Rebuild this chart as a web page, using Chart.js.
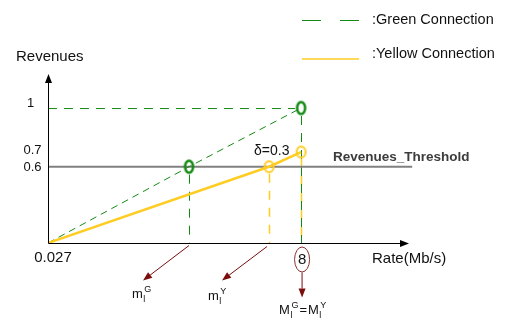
<!DOCTYPE html>
<html>
<head>
<meta charset="utf-8">
<script src="https://cdn.jsdelivr.net/npm/chart.js@4.4.1/dist/chart.umd.min.js"></script>
<style>
  html, body { margin: 0; padding: 0; background: #fff; }
  #wrap { width: 514px; height: 326px; }
</style>
</head>
<body>
<div id="wrap"><canvas id="chart" width="514" height="326"></canvas></div>
<script>
// values (schematic, not to scale)
const rateTicks = ["0.027", "8"];
const revenueTicks = [1, 0.7, 0.6];
const greenRate = [0.027, 4.47, 8];
const greenRevenue = [0.08, 0.6, 1];
const yellowRate = [0.027, 6.99, 8];
const yellowRevenue = [0.08, 0.6, 0.7];
const thresholdRate = [0.027, 11.5];
const thresholdRevenue = [0.6, 0.6];
const deltaLabel = "δ=0.3";
const legendLabels = [":Green Connection", ":Yellow Connection"];

const FONT = "'Liberation Sans', Arial, sans-serif";
const GREEN = "#138a13";
const YELLOW = "#ffcc22";
const RED = "#7a0c0c";

function toPoints(xs, ys) {
  return xs.map((x, i) => ({ x, y: ys[i] }));
}

function ellipseMarker(color, w, h, lw) {
  const c = document.createElement("canvas");
  c.width = w + lw * 2 + 2;
  c.height = h + lw * 2 + 2;
  const g = c.getContext("2d");
  g.strokeStyle = color;
  g.lineWidth = lw;
  g.beginPath();
  g.ellipse(c.width / 2, c.height / 2, w / 2, h / 2, 0, 0, Math.PI * 2);
  g.stroke();
  return c;
}

function dashed(ctx, x1, y1, x2, y2, color, lw, dash) {
  ctx.save();
  ctx.strokeStyle = color;
  ctx.lineWidth = lw;
  ctx.setLineDash(dash);
  ctx.beginPath();
  ctx.moveTo(x1, y1);
  ctx.lineTo(x2, y2);
  ctx.stroke();
  ctx.restore();
}

function arrow(ctx, x1, y1, x2, y2, color, headLen, headW) {
  const a = Math.atan2(y2 - y1, x2 - x1);
  const bx = x2 - headLen * Math.cos(a);
  const by = y2 - headLen * Math.sin(a);
  ctx.save();
  ctx.strokeStyle = color;
  ctx.fillStyle = color;
  ctx.lineWidth = 1;
  ctx.beginPath();
  ctx.moveTo(x1, y1);
  ctx.lineTo(bx, by);
  ctx.stroke();
  ctx.beginPath();
  ctx.moveTo(x2, y2);
  ctx.lineTo(bx + headW / 2 * Math.sin(a), by - headW / 2 * Math.cos(a));
  ctx.lineTo(bx - headW / 2 * Math.sin(a), by + headW / 2 * Math.cos(a));
  ctx.closePath();
  ctx.fill();
  ctx.restore();
}

// draws base with subscript + superscript, returns the x after it
function subSup(ctx, x, y, base, sub, sup) {
  ctx.font = "13px " + FONT;
  ctx.fillText(base, x, y);
  const w = ctx.measureText(base).width;
  ctx.font = "9px " + FONT;
  ctx.fillText(sub, x + w + 0.5, y + 4);
  ctx.fillText(sup, x + w + 1.5, y - 6);
  return x + w + 1.5 + ctx.measureText(sup).width;
}

const sketchPlugin = {
  id: "sketch",
  beforeDatasetsDraw(chart) {
    const { ctx, chartArea, scales } = chart;
    const sx = scales.x;
    const sy = scales.y;
    const y0 = chartArea.bottom;
    const x0 = chartArea.left;

    // horizontal guide at the top green point
    const gTopX = sx.getPixelForValue(greenRate[2]);
    const gTopY = sy.getPixelForValue(greenRevenue[2]);
    dashed(ctx, x0, gTopY + 0.5, gTopX - 6, gTopY + 0.5, GREEN, 1, [9, 7]);

    // vertical guides down to the rate axis
    const gMidX = Math.round(sx.getPixelForValue(greenRate[1])) + 0.5;
    const thY = sy.getPixelForValue(thresholdRevenue[0]);
    dashed(ctx, gMidX, thY + 8, gMidX, y0, GREEN, 1, [9, 8]);

    const yMidX = Math.round(sx.getPixelForValue(yellowRate[1])) + 0.5;
    dashed(ctx, yMidX, thY + 7, yMidX, y0, YELLOW, 1.5, [9, 8]);

    const yTopY = sy.getPixelForValue(yellowRevenue[2]);
    const endX = Math.round(gTopX) + 0.5;
    dashed(ctx, endX, yTopY + 7, endX, y0, YELLOW, 1.5, [9, 8]);
    dashed(ctx, endX, gTopY + 8, endX, y0, GREEN, 1, [9, 8]);
  },
  afterDraw(chart) {
    const { ctx, chartArea, scales } = chart;
    const sx = scales.x;
    const sy = scales.y;
    const x0 = chartArea.left + 0.5;
    const y0 = chartArea.bottom + 0.5;

    ctx.save();
    // axes with arrow heads
    ctx.strokeStyle = "#000";
    ctx.fillStyle = "#000";
    ctx.lineWidth = 1;
    ctx.beginPath();
    ctx.moveTo(x0, y0);
    ctx.lineTo(x0, chartArea.top + 8);
    ctx.moveTo(x0, y0);
    ctx.lineTo(chartArea.right - 8, y0);
    ctx.stroke();
    ctx.beginPath();
    ctx.moveTo(x0, chartArea.top);
    ctx.lineTo(x0 - 3.5, chartArea.top + 9);
    ctx.lineTo(x0 + 3.5, chartArea.top + 9);
    ctx.closePath();
    ctx.moveTo(chartArea.right, y0);
    ctx.lineTo(chartArea.right - 9, y0 - 3.5);
    ctx.lineTo(chartArea.right - 9, y0 + 3.5);
    ctx.closePath();
    ctx.fill();

    // axis titles and tick labels
    ctx.fillStyle = "#111";
    ctx.textBaseline = "middle";
    ctx.textAlign = "left";
    ctx.font = "15px " + FONT;
    ctx.fillText("Revenues", 16, chartArea.top - 17);
    ctx.fillText("Rate(Mb/s)", 372, y0 + 15);

    const nudge = { 1: -5, 0.7: -2, 0.6: 1 };
    const shift = { 1: -2, 0.7: 0, 0.6: 0 };
    ctx.font = "13px " + FONT;
    ctx.textAlign = "center";
    revenueTicks.forEach((v) => {
      ctx.fillText(String(v), x0 - 16 + shift[v], sy.getPixelForValue(v) + nudge[v]);
    });

    ctx.font = "15px " + FONT;
    ctx.fillText(rateTicks[0], sx.getPixelForValue(Number(rateTicks[0])) + 5, y0 + 14);
    const eightX = sx.getPixelForValue(Number(rateTicks[1])) + 1;
    ctx.fillText(rateTicks[1], eightX, y0 + 16);
    ctx.strokeStyle = "#8b3030";
    ctx.beginPath();
    ctx.ellipse(eightX, y0 + 16, 7.5, 12.5, 0, 0, Math.PI * 2);
    ctx.stroke();

    // threshold + delta labels
    const thY = sy.getPixelForValue(thresholdRevenue[0]);
    ctx.textAlign = "left";
    ctx.font = "bold 13.5px " + FONT;
    ctx.fillStyle = "#3c3c3c";
    ctx.fillText("Revenues_Threshold", 333, thY - 9);
    ctx.font = "14px " + FONT;
    ctx.fillStyle = "#111";
    ctx.fillText(deltaLabel, 254, sy.getPixelForValue(yellowRevenue[2]) - 1);

    // red pointer arrows and m labels
    const gMidX = sx.getPixelForValue(greenRate[1]);
    const yMidX = sx.getPixelForValue(yellowRate[1]);
    arrow(ctx, gMidX, y0 + 2, gMidX - 46, y0 + 37, RED, 9, 7);
    arrow(ctx, yMidX - 2, y0 + 3, yMidX - 47, y0 + 37, RED, 9, 7);
    arrow(ctx, eightX, y0 + 29, eightX, y0 + 54, RED, 9, 7);

    ctx.fillStyle = "#111";
    ctx.textBaseline = "alphabetic";
    subSup(ctx, gMidX - 57, y0 + 54, "m", "l", "G");
    subSup(ctx, yMidX - 61, y0 + 56, "m", "l", "Y");
    let cx = subSup(ctx, eightX - 23, y0 + 70, "M", "l", "G");
    ctx.font = "13px " + FONT;
    ctx.fillText("=", cx + 1, y0 + 70);
    cx += ctx.measureText("=").width + 2;
    subSup(ctx, cx, y0 + 70, "M", "l", "Y");

    // legend
    dashed(ctx, 302, 20.5, 359, 20.5, GREEN, 1, [19, 19]);
    ctx.strokeStyle = YELLOW;
    ctx.lineWidth = 1.5;
    ctx.beginPath();
    ctx.moveTo(302, 59);
    ctx.lineTo(359, 59);
    ctx.stroke();
    ctx.fillStyle = "#111";
    ctx.textBaseline = "middle";
    ctx.font = "14.5px " + FONT;
    ctx.fillText(legendLabels[0], 372, 20);
    ctx.fillText(legendLabels[1], 372, 54);
    ctx.restore();
  },
};

const greenMarker = ellipseMarker(GREEN, 8, 12, 2.5);
const yellowMarker = ellipseMarker(YELLOW, 9, 11, 2);

new Chart(document.getElementById("chart"), {
  type: "line",
  plugins: [sketchPlugin],
  data: {
    datasets: [
      {
        label: "Yellow Connection",
        data: toPoints(yellowRate, yellowRevenue),
        borderColor: YELLOW,
        borderWidth: 2.5,
        pointStyle: yellowMarker,
        pointRadius: [0, 5, 5],
        tension: 0,
        order: 0,
      },
      {
        label: "Green Connection",
        data: toPoints(greenRate, greenRevenue),
        borderColor: GREEN,
        borderWidth: 1,
        borderDash: [7, 5],
        pointStyle: greenMarker,
        pointRadius: [0, 5, 5],
        tension: 0,
        order: 1,
      },
      {
        label: "Revenues_Threshold",
        data: toPoints(thresholdRate, thresholdRevenue),
        borderColor: "#808080",
        borderWidth: 2,
        pointRadius: 0,
        clip: false,
        order: 2,
      },
    ],
  },
  options: {
    responsive: false,
    animation: false,
    layout: { padding: { left: 48, right: 105, top: 74, bottom: 83 } },
    plugins: {
      legend: { display: false },
      tooltip: { enabled: false },
    },
    scales: {
      x: { type: "linear", min: 0.027, max: 11.4, display: false },
      y: { type: "linear", min: 0.08, max: 1.232, display: false },
    },
  },
});
</script>
</body>
</html>
